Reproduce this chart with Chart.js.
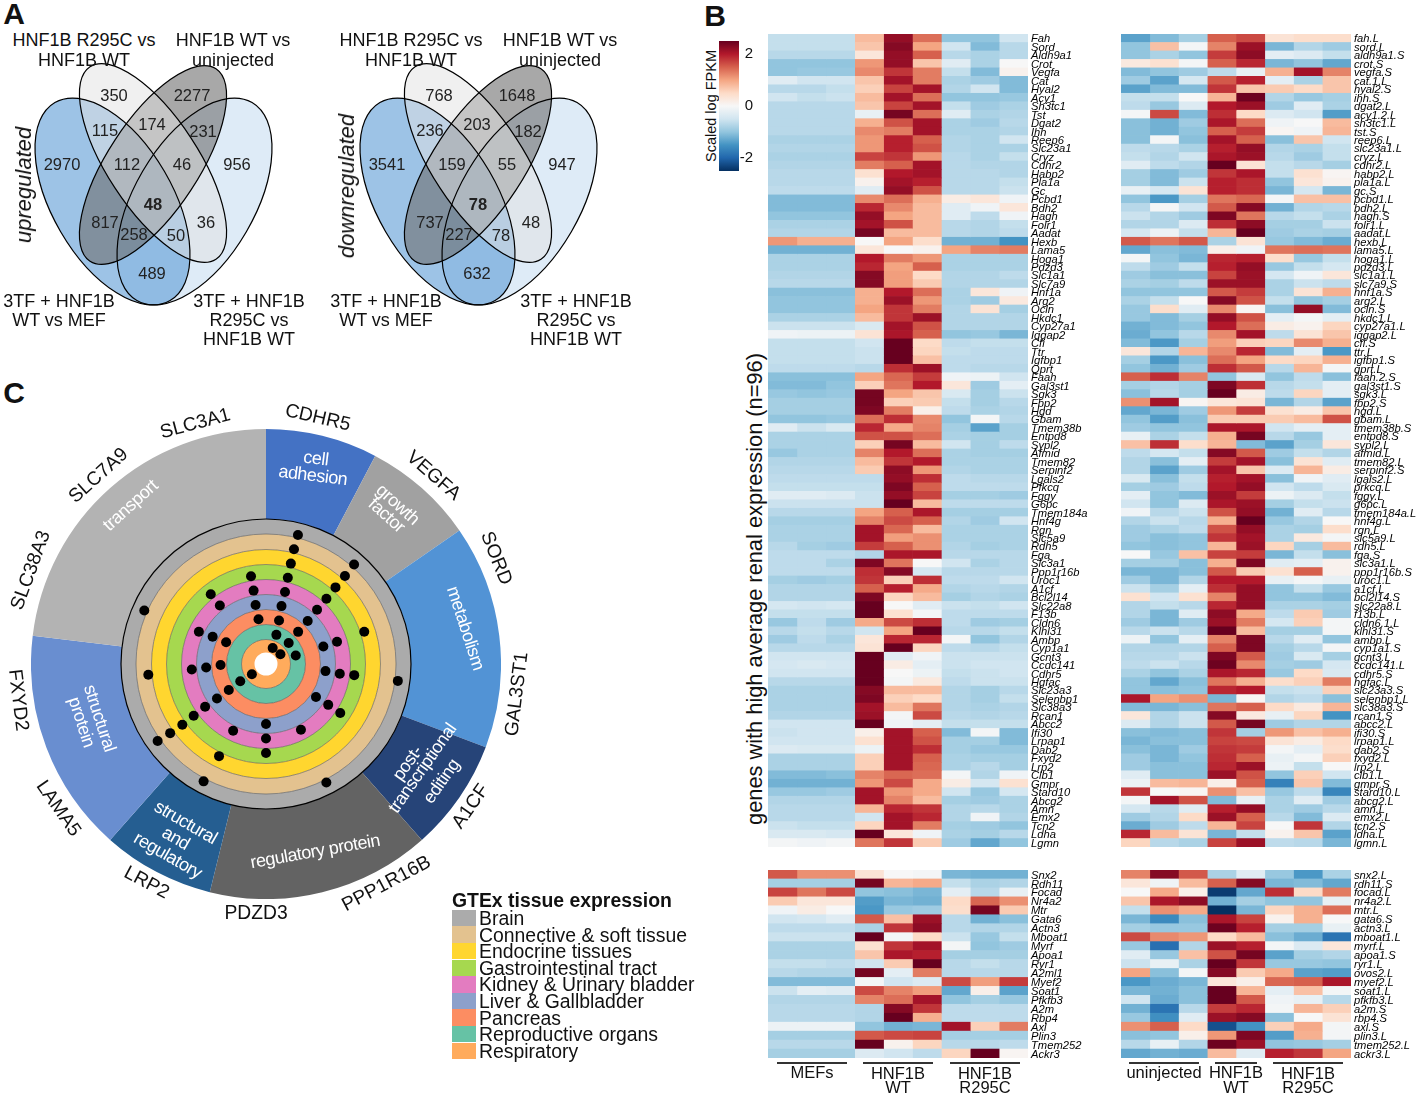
<!DOCTYPE html>
<html>
<head>
<meta charset="utf-8">
<script src="https://cdn.jsdelivr.net/npm/chart.js@4"></script>
<style>
html, body { margin: 0; padding: 0; background: #fff; overflow: hidden; }
#page { position: relative; width: 1417px; height: 1097px; overflow: hidden; font-family: "Liberation Sans", Arial, sans-serif; color: #111; }
canvas { position: absolute; }
.t { position: absolute; white-space: nowrap; line-height: 1; transform-origin: center; }
</style>
</head>
<body>
<div id="page"></div>
<script>
// ---- A: venn counts
const vennUpCounts = [350, 2277, 115, 174, 231, 2970, 112, 46, 956, 48, 817, 258, 50, 36, 489];
const vennDownCounts = [768, 1648, 236, 203, 182, 3541, 159, 55, 947, 78, 737, 227, 78, 48, 632];

// ---- B: heatmap data (scaled log FPKM)
const mouseCols = ["MEFs 1", "MEFs 2", "MEFs 3", "WT 1", "WT 2", "WT 3", "R295C 1", "R295C 2", "R295C 3"];
const frogCols = ["uninjected 1", "uninjected 2", "uninjected 3", "WT 1", "WT 2", "R295C 1", "R295C 2", "R295C 3"];

const mouseGenes = ["Fah","Sord","Aldh9a1","Crot","Vegfa","Cat","Hyal2","Acy1","Sh3tc1","Tst","Dgat2","Ihh","Reep6","Slc23a1","Cryz","Cdhr2","Habp2","Pla1a","Gc","Pcbd1","Bdh2","Hagh","Folr1","Aadat","Hexb","Lama5","Hoga1","Pdzd3","Slc1a1","Slc7a9","Hnf1a","Arg2","Ocln","Hkdc1","Cyp27a1","Iqgap2","Cfi","Ttr","Igfbp1","Qprt","Faah","Gal3st1","Sgk3","Fbp2","Hgd","Gbam","Tmem38b","Entpd8","Sypl2","Afmid","Tmem82","Serpinf2","Lgals2","Pfkcq","Fggy","G6pc","Tmem184a","Hnf4g","Rgn","Slc5a9","Rdh5","Fga","Slc3a1","Ppp1r16b","Uroc1","A1cf","Bcl2l14","Slc22a8","F13b","Cldn6","Klhl31","Ambp","Cyp1a1","Gcnt3","Ccdc141","Cdhr5","Hgfac","Slc23a3","Selenbp1","Slc38a3","Rcan1","Abcc2","Ifi30","Lrpap1","Dab2","Fxyd2","Lrp2","Clb1","Gmpr","Stard10","Abcg2","Amn","Emx2","Tcn2","Ldha","Lgmn"];
const mouseValues = [
[-.6,-.6,-.6,.8,2.2,1.4,-1,-1,-.5],
[-.6,-.6,-.6,.7,2.3,1,-.5,-1.1,-.7],
[-.7,-.7,-.7,.3,2.2,1.5,-.7,-.8,-.7],
[-1,-1,-1,1.1,2.2,.7,-.3,-.8,0],
[-1,-.95,-.95,1.2,1.8,1.3,-.6,-1.1,.1],
[-.3,-.5,-.5,.7,2.1,1.3,-.8,-.9,-1.1],
[-.7,-.7,-.6,.6,1.7,2.1,-.75,-.5,-1.1],
[-.5,-.6,-.55,.8,2.1,1.4,-1,-1,-.95],
[-.7,-.7,-.7,.7,1.7,2.1,-.6,-.9,-.8],
[-.7,-.7,-.7,-.2,2.4,1.4,-.3,-.8,-.75],
[-.7,-.7,-.7,.9,1.6,2.1,-.8,-.9,-.7],
[-.7,-.7,-.7,1.2,1.3,2.1,-.8,-.8,-.75],
[-.8,-.8,-.8,1.1,1.95,1.5,-.75,-.8,-.5],
[-.75,-.75,-.75,1.1,1.95,1.6,-.75,-.8,-.8],
[-.8,-.8,-.8,1.7,1.8,1.1,-.7,-.8,-.6],
[-.75,-.75,-.75,1.3,1.5,2.1,-.7,-.75,-.75],
[-.7,-.7,-.7,.4,2,2.1,-.7,-.7,-.75],
[-.7,-.7,-.7,.1,2.1,1.95,-.7,-.7,-.6],
[-.65,-.65,-.65,-.3,2.2,1.6,-.7,-.7,-.55],
[-1.1,-1.1,-1.1,1.2,1.4,.9,.2,.3,-.1],
[-1.1,-1.1,-1.1,1.9,1.2,.8,-.3,-.1,.3],
[-1,-1,-1,2.2,1,.8,-.3,-.65,-.1],
[-.8,-.8,-.8,2.1,1.6,.8,-.7,-.75,-.6],
[-.75,-.75,-.75,2.4,.8,.8,-.7,-.75,-.65],
[1.1,.9,.9,0,1,.45,-1.2,-1.2,-1.5],
[-1.2,-1.2,-1.2,.3,0,.1,1,1.25,1.3],
[-.8,-.8,-.8,2,1.3,1.1,-.8,-.8,-.8],
[-.8,-.8,-.8,1.9,1,1.5,-.8,-.8,-.8],
[-.75,-.75,-.75,2.3,1.05,.5,-.75,-.75,-.65],
[-.7,-.7,-.7,2.3,1.05,.65,-.75,-.75,-.75],
[-1.05,-1.05,-1.05,.9,2,1.4,-.8,.3,-.1],
[-1,-1,-1,.9,2.15,1.1,-.8,-.9,.25],
[-1,-1,-1,1,1.8,1.3,-.75,.35,-.85],
[-.8,-.8,-.8,.8,1.8,2.15,-.75,-.75,-.75],
[-.55,-.55,-.55,-.4,2.1,1.6,-.75,-.75,-.75],
[-.1,-.15,-.15,.35,2.05,1.5,-1,-.95,-1.15],
[-.6,-.6,-.6,-.5,2.5,.5,-.65,-.6,-.6],
[-.6,-.6,-.6,-.55,2.5,.55,-.6,-.65,-.65],
[-.6,-.6,-.6,-.55,2.5,.75,-.65,-.65,-.65],
[-.65,-.65,-.65,-.7,1.85,2.15,-.65,-.7,-.7],
[-1.05,-1.05,-1.05,1,1.45,1.75,-.1,-.15,-.5],
[-1.1,-1.1,-1,.6,1.35,2,.3,-.9,-.25],
[-.95,-1,-.95,2.4,1,.7,-.4,-.85,-.55],
[-.85,-.85,-.85,2.4,.6,.65,-.6,-.85,-.7],
[-.85,-.85,-.85,2.35,1.3,.15,-.65,-.8,-.75],
[-1,-1,-.95,1.4,1.85,1.2,-1,-.05,-.7],
[-.3,-.55,-.4,1.9,.95,1.25,-.85,-1.35,-.85],
[-.8,-.8,-.8,1.6,1.6,1.4,-.8,-.85,-.85],
[-.8,-.8,-.8,.6,2.4,.8,-.5,-.85,-.65],
[-.95,-.8,-.8,1.25,2,1.4,-.8,-.85,-.85],
[-.75,-.75,-.75,.8,1.8,2,-.8,-.8,-.8],
[-.7,-.7,-.7,.65,2.25,1.1,-.75,-.8,-.8],
[-.65,-.65,-.65,-.65,2.2,1.85,-.65,-.7,-.7],
[-.6,-.6,-.6,-.6,2.35,1.5,-.65,-.65,-.65],
[-.3,-.3,-.35,-.55,2.2,1.7,-.85,-.85,-.9],
[-.55,-.55,-.55,-.55,2.5,.8,-.65,-.65,-.65],
[-.7,-.7,-.7,1,1.5,2.05,-.85,-.85,-.85],
[-.85,-.85,-.85,1.25,1.65,1.5,-.75,-.9,-.5],
[-.8,-.8,-.8,2.1,1.45,.8,-.8,-.8,-.8],
[-.8,-.8,-.8,2.1,1.05,1.15,-.8,-.8,-.8],
[-.7,-.85,-.9,1.75,1.5,1.15,-.75,-.85,-.8],
[-.65,-.65,-.65,-.75,2.05,2.05,-.7,-.7,-.7],
[-.65,-.65,-.8,2.35,1.35,0,-.5,-.8,-.7],
[-.65,-.65,-.65,1.85,2.3,-.45,-.7,-.7,-.7],
[-.85,-.9,-.85,1.8,.6,1.85,-.65,-.65,-.5],
[-.75,-.75,-.75,1.5,1.95,.95,-.75,-.7,-.75],
[-.75,-.75,-.75,2.35,.55,.8,-.85,-.75,-.8],
[-.45,-.5,-.45,2.5,0,-.3,-.55,-.6,-.5],
[-.6,-.6,-.6,2.5,.4,-.05,-.65,-.65,-.65],
[-.95,-.65,-.9,.95,1.65,1.85,-.65,-.9,-.85],
[-.7,-.6,-.7,-.5,1,2.5,-.7,-.7,-.6],
[-.9,-.65,-.8,.3,1.9,1.9,-.05,-1,-.75],
[-.7,-.7,-.7,.35,2.5,.55,-.65,-.7,-.6],
[-.5,-.5,-.5,2.5,-.3,-.1,-.55,-.55,-.55],
[-.45,-.4,-.45,2.5,.2,-.25,-.55,-.5,-.5],
[-.5,-.5,-.5,2.5,0,-.15,-.6,-.55,-.5],
[-.7,-.7,-.7,2.5,-.05,.25,-.65,-.55,-.55],
[-.8,-.8,-.8,2.3,.8,.8,-.75,-.85,-.7],
[-.8,-.8,-.8,2.35,.6,.5,-.75,-.85,-.6],
[-.8,-.8,-.8,2.1,.8,1.35,-.75,-.8,-.75],
[-.75,-.75,-.75,2.15,-.05,1.65,-.7,-.75,-.7],
[-.5,-.5,-.5,2.5,-.1,-.25,-.6,-.6,-.6],
[-.55,-.5,-.5,.15,2.1,1.5,-1.1,-.05,-1.1],
[-.5,-.5,-.5,.4,2.1,1.6,-.85,-.85,-1.1],
[-.35,-.4,-.4,-.15,2.1,1.85,-.85,-.95,-.95],
[-.8,-.8,-.8,.6,2.1,1.5,-.8,-.85,-.85],
[-.8,-.8,-.8,.6,2.1,1.45,-.8,-.7,-.85],
[-1.1,-1.1,-1.05,1.25,1.45,1.4,-.05,-.75,-.1],
[-1.2,-1.2,-1.2,1.1,1.65,.95,.2,-.45,.4],
[-.95,-.95,-.9,2.1,1.1,.95,-.5,-.95,-.45],
[-.75,-.75,-.75,2.1,1.25,.8,-.85,-.9,-.8],
[-.7,-.7,-.7,.85,1.9,1.8,-.75,-.7,-.8],
[-.7,-.7,-.7,-.5,2.1,1.9,-.75,-.1,-.75],
[-.55,-.6,-.6,.55,2.1,1.3,-.85,-.9,-1],
[-.4,-.4,-.45,2.5,.3,-.1,-.8,-.85,-.7],
[-.05,-.1,-.05,1.35,1.8,.65,-.9,-1.3,-1]
];

const mouseGenesLow = ["Snx2","Rdh11","Focad","Nr4a2","Mtr","Gata6","Actn3","Mboat1","Myrf","Apoa1","Ryr1","A2ml1","Myef2","Soat1","Pfkfb3","A2m","Rbp4","Axl","Plin3","Tmem252","Ackr3"];
const mouseValuesLow = [
[1.55,1.15,1.15,.35,0,-.05,-1.15,-1.2,-1.2],
[-.85,-.85,-.85,2.4,.85,.95,-.6,-.8,-.75],
[1.7,1.35,1.65,-1,-1.05,-1.15,-.25,-.7,-.2],
[.65,.3,.3,-1.4,-1.15,-1.2,.5,1.45,1.15],
[-.1,.2,0,-1.45,-.95,-.9,.45,2.4,.65],
[-.5,-.45,-.3,1.55,.75,2.15,-.7,-1.2,-1.05],
[-.65,-.65,-.65,-.8,1.8,2.25,-.7,-.75,-.75],
[-.55,-.55,-.55,2.5,-.05,.5,-.55,-.95,-.6],
[-.8,-.8,-.8,.4,1.8,2.1,-.05,-1,-.9],
[-.8,-.8,-.8,.7,2.05,1.95,-.85,-.85,-.85],
[-.6,-.6,-.65,-.5,.65,2.5,-.7,-.6,-.7],
[-.7,-.75,-.75,2.4,-.25,1.3,-.7,-.7,-.7],
[-1.1,-1.1,-1.1,-.05,-.5,-.35,1.65,1.05,1.75],
[-.55,-.25,-.3,1.65,1.25,1.05,-1.3,.15,-1.35],
[-.75,-.75,-.75,1.25,1.4,2.1,-1,-.85,-.95],
[-.7,-.7,-.7,-.75,2.3,1.8,-.65,-.65,-.65],
[-.7,-.7,-.7,-.75,2.5,.9,-.65,-.65,-.65],
[-.15,-.15,-.15,-1,-1.2,-1.15,2.1,.6,1.3],
[-.85,-.85,-.85,1.55,1.65,1.7,-.85,-.85,-.85],
[-.7,-.7,-.7,2.5,.1,.55,-.7,-.7,-.65],
[-.85,-.85,-.85,-.35,-.5,-.65,.55,2.5,.05]
];

const frogGenes = ["fah.L","sord.L","aldh9a1.S","crot.S","vegfa.S","cat.1.L","hyal2.S","ihh.S","dgat2.L","acy1.2.L","sh3tc1.L","tst.S","reep6.L","slc23a1.L","cryz.L","cdhr2.L","habp2.L","pla1a.L","gc.S","pcbd1.L","bdh2.L","hagh.S","folr1.L","aadat.L","hexb.L","lama5.L","hoga1.L","pdzd3.L","slc1a1.L","slc7a9.S","hnf1a.S","arg2.L","ocln.S","hkdc1.L","cyp27a1.L","iqgap2.L","cfi.S","ttr.L","igfbp1.S","qprt.L","faah.2.S","gal3st1.S","sgk3.L","fbp2.S","hgd.L","gbam.L","tmem38b.S","entpd8.S","sypl2.L","afmid.L","tmem82.L","serpinf2.S","lgals2.L","prkcq.L","fggy.L","g6pc.L","tmem184a.L","hnf4g.L","rgn.L","slc5a9.L","rdh5.L","fga.S","slc3a1.L","ppp1r16b.S","uroc1.L","a1cf.L","bcl2l14.S","slc22a8.L","f13b.L","cldn6.1.L","klhl31.S","ambp.L","cyp1a1.S","gcnt3.L","ccdc141.L","cdhr5.S","hgfac.L","slc23a3.S","selenbp1.L","slc38a3.S","rcan1.S","abcc2.L","ifi30.S","lrpap1.L","dab2.S","fxyd2.L","lrp2.L","clb1.L","gmpr.S","stard10.L","abcg2.L","amn.L","emx2.L","tcn2.S","ldha.L","lgmn.L"];
const frogValues = [
[-1.35,-1.1,-.85,1.5,1.65,.35,.45,.45],
[-1,.75,-.05,1.25,2.15,-1.15,-.75,-.9],
[-1,-.8,-1,1.75,2.25,-.25,-.35,-.6],
[.25,.4,-.05,1.5,1.9,-1.15,-1,-1.3],
[-1.1,-1,-.9,-.65,-.2,.9,2.1,1.25],
[-.9,-1.35,-.45,1.55,1.95,-.25,-.8,.7],
[-1.35,-1.1,-1.1,1.8,.7,.65,.5,.7],
[-.6,-.6,0,.85,2.45,-.75,-.95,-.85],
[-.65,-.95,-.35,2,2.15,-.9,-.3,-.8],
[-.05,1.65,-1.1,1.85,.5,-.35,-.5,-1.4],
[-1.05,-1.2,-.9,2.05,1.4,-.1,0,.8],
[-1.05,-1.2,-1,1.5,1.75,.05,-.1,.85],
[-1.05,-.05,-1.05,2.1,1.5,-1.05,.7,-.5],
[-.65,-.7,-.8,1.95,2.2,-.75,-.8,-.6],
[-.6,-.75,-.5,2.05,2.15,-.7,-.9,-.6],
[-.3,-.65,-.75,2.5,.35,-.6,-.7,-.85],
[-.85,-1.1,-.9,1.8,2.05,-.6,.4,.05],
[-.85,-1.1,-.55,1.95,1.85,-1,.3,.1],
[-.2,-.45,.35,1.95,1.85,-1.15,-.45,-1.15],
[-1,-1.45,-.85,1.35,1.45,-.05,.75,.75],
[-.7,-.05,-.5,1.55,2.3,-1.2,-.75,-.7],
[-.55,-.75,-.9,2.35,1.35,-.7,-.6,-.8],
[-.75,-.75,-.35,1.85,2.25,-.85,-.85,-.55],
[-.45,-.15,-.6,.85,2.5,-.9,-.8,-.85],
[1.55,1.35,1.55,-.8,.35,-.95,-1.1,-1.25],
[-1.3,-1.05,-1.1,.15,-.1,1.35,1.4,1.35],
[-.05,-1,-1.15,1.9,1.95,.45,-.95,-.6],
[-.65,-.9,-.6,1.95,2.2,-.95,-.6,-.45],
[-.9,-1.05,-1.05,1.7,2.15,-.45,-.1,.3],
[-.8,-.85,-.65,2.15,2.15,-.8,-.55,-.65],
[-1,-1,-1,1.55,1.75,-.8,.35,.9],
[-.8,-.6,0,2.3,1.6,-.6,-1,-.85],
[-.95,.45,-.3,1.2,.05,-1.05,2.2,-1.1],
[-.95,-1.1,-.85,2.2,1.6,-.25,-.05,-.25],
[-1.2,-1.1,-1,2,1.4,.2,.1,.55],
[-1.25,-1,-.7,1.2,2.1,-.65,.35,.7],
[-1.1,-1.45,-.85,1.05,.6,.55,1.2,.9],
[.3,-.75,.85,1.2,1.9,-1.1,-.25,-1.45],
[-.85,-1.45,-1.05,1.4,1,.5,.55,.9],
[-1,-1.2,-.9,1.85,1.55,-.7,.85,-.05],
[1.5,1.85,1.25,-1,-.4,-1,-.65,-1.05],
[-.85,-.75,-.85,2.35,1.85,-.7,-.6,-.25],
[-1.05,-.7,-.85,2.5,.2,-.65,.55,-.25],
[1.15,2.1,.05,.3,.35,-1.15,-.75,-1.35],
[-1.3,-1.15,-.9,1.1,1.75,.4,.2,.7],
[-1,-1.4,-1.05,.65,.65,.65,.8,1.6],
[-.9,-1,-1,2.05,2.05,-.5,-.25,-.25],
[-.2,-.8,-.6,.9,2.4,-.7,-.95,-.25],
[.75,1.85,.45,.85,-1.1,-1.35,-.85,.3],
[-.65,-.45,-.6,2.3,1.55,-.9,-.6,-.75],
[-.75,-1.05,-.25,1.75,2.1,-1.05,.35,-.3],
[-.75,-1.35,-.9,2.1,.7,-.35,.85,.2],
[-.4,-1.05,-.6,1.95,2.1,-1.05,-.1,-.3],
[-.85,-.9,-.65,2,2.2,-.5,-.65,-.4],
[-.25,-1,-1.1,2.15,1.75,-.15,-.35,-.6],
[-.5,-1,-.35,2.05,2.15,-.85,-.6,-.55],
[-.1,-.7,-.55,1.6,2.2,-1.2,-.3,-.7],
[-.75,-.55,-.7,.9,2.5,-.95,-.75,0],
[-.9,-.8,-.65,1.6,2.2,-.8,-.85,.45],
[-.9,-1.05,-1,1.8,2.1,-.8,.25,-.05],
[-1,-1.05,-1,.85,2.15,.55,-.85,.8],
[0,-.95,.75,1.7,1.75,-1.15,-.6,-1.05],
[-.85,-.85,-1.05,.9,2.35,-.3,-.25,.1],
[-1.15,-1.15,-1.05,1.55,.65,.4,1.5,.1],
[-.9,-1.15,-.75,2,2,-.2,-.05,-.2],
[-.55,-.85,-.25,1.85,2.2,-1,-.6,-.95],
[.4,-.5,.4,1.25,2.2,-1,-1,-1.1],
[-.75,-.6,-.7,1.9,2.2,-.8,-.8,-.85],
[-.75,-1.15,-.3,2.25,.95,-.65,.65,-.9],
[-.9,-1.15,-.9,2.15,1.3,-.45,.6,-.05],
[-.7,-.55,-.7,2.5,.8,-.85,-.85,-.05],
[-.15,-1,-.25,1.25,2.35,-.7,-.3,-1],
[-.75,-.75,-.75,1.5,2.35,-.85,-.7,-.05],
[-.7,-.7,-.55,2.35,1.55,-.9,-.4,-.85],
[-.65,-.55,-.7,2.45,1.2,-.85,-.9,-.45],
[-.8,-1,-.8,2.05,1.9,-.95,.5,-.4],
[-1,-1.3,-1.05,1.35,.9,.45,.6,1.3],
[-1,-1.05,-1,1.9,2,-.6,-.55,.6],
[2.05,1,1.15,-1.15,.05,-.75,-.65,-1.05],
[-1.1,-1.15,-1.05,1.35,1.5,.5,.25,.85],
[.3,-.75,-.55,2.3,.25,-.2,.55,-1.5],
[-.35,-.75,-.55,1.55,2.4,-.9,-.75,-.75],
[-1.05,-1.1,-1.05,1.8,-.85,1.1,.75,.9],
[-1.15,-1.05,-1.05,1.7,1.65,.35,.2,.5],
[-1.05,-1.15,-.9,1.8,1.75,-.05,-.25,.45],
[-.9,-1.15,-1,1.85,1.5,-.2,-.05,.6],
[-.9,-1.05,-1.05,1.9,2.15,-.15,-.6,0],
[-.3,-1.05,-1.05,2.15,1.6,-1,.6,-.5],
[-.15,.8,.85,.15,1.5,-1.7,.7,-1.1],
[1.8,0,.05,1.15,.75,-.95,-.65,-1.65],
[-.05,2.1,1.6,-1.1,-.2,-.8,-.3,-.9],
[-.45,-.7,-.3,1.95,2.2,-.8,-.9,-.7],
[-.9,-.75,.5,2.15,1.5,-.7,-1.1,-.35],
[-1.25,-.9,-.65,.85,1.7,0,1.8,-.75],
[1.9,.8,.35,-1.15,-.6,.1,.7,-1.35],
[.55,-.7,-.8,1.7,2.15,-.65,-.7,-1.15]
];

const frogGenesLow = ["snx2.L","rdh11.S","focad.L","nr4a2.L","mtr.L","gata6.S","actn3.L","mboat1.L","myrf.L","apoa1.S","ryr1.L","ovos2.L","myef2.L","soat1.L","pfkfb3.L","a2m.S","rbp4.S","axl.S","plin3.L","tmem252.L","ackr3.L"];
const frogValuesLow = [
[1.25,2.3,1.55,-.8,-.3,-.95,-1.45,-.8],
[.3,-.1,.8,1.5,2.3,-1.15,-1.1,-1.3],
[0,.95,.15,-2.4,-1.3,1.85,.5,1.3],
[.7,2.05,2.25,-1.2,-.85,-1,-1,-.2],
[-.6,1.15,.95,-2.5,-1.15,.55,.9,1.4],
[-1.15,-1.6,-1.05,2.05,1.7,.1,.9,0],
[-.85,-.95,-.95,2.45,1.95,-.85,-.85,-.2],
[1.65,1.2,1.1,.5,.8,-1.05,-1.25,-1.85],
[-.95,-1.9,-.75,2.15,1.95,-.05,-.35,.3],
[-.3,-.95,.75,1.6,2.4,-1.35,-.85,-.75],
[-.55,-.2,-.8,2.5,1.8,-.95,-.95,-1],
[1,-1.05,-.05,2.3,.65,.95,-1.35,-1.4],
[-1.45,-1.25,-1.15,.3,.15,1.45,1.5,2.05],
[-1.15,-1.2,-1.05,2.5,.85,-.25,.75,-.05],
[-.5,-1.25,-1.05,2.5,1.55,-.1,-.2,-.7],
[-1.2,-1.85,-.7,1.75,1.9,-.05,.85,.6],
[-.95,-1.55,-.3,2.15,2.3,-1.05,0,.35],
[1.15,1.5,.5,-2.2,-1.5,.6,.95,-.05],
[-1.05,-1,.15,1.1,2.35,-1.4,.9,-.05],
[-.7,-.2,-.75,2.45,2.15,-1,-.95,-.85],
[-1.3,-1.2,-1.25,.8,-.3,1.95,1.8,1]
];

// ---- C: GTEx wheel
const functionNames = ["cell adhesion", "growth factor", "metabolism", "post-transcriptional editing", "regulatory protein", "structural and regulatory", "structural protein", "transport"];
const functionGeneCounts = [1, 1, 2, 1, 2, 1, 2, 3];
const functionColors = ["#4472c4", "#a1a1a1", "#5293d5", "#264478", "#636363", "#255e91", "#698ed0", "#b3b3b3"];
const tissues = ["Brain", "Connective & soft tissue", "Endocrine tissues", "Gastrointestinal tract", "Kidney & Urinary bladder", "Liver & Gallbladder", "Pancreas", "Reproductive organs", "Respiratory"];
const tissueColors = ["#ababab", "#e3c28f", "#ffd62f", "#a6d84f", "#e37cc0", "#8da0cb", "#fc8d62", "#66c2a5", "#ffab5c"];
// angle (degrees clockwise from top) of each gene dot on each tissue ring
const tissueDotAngles = [
  [13.9, 41.5, 97.3, 153, 208, 234.6, 293.7],
  [13.7, 41.9, 234.2, 264.8],
  [13.9, 42.2, 71.8, 207, 234],
  [14.2, 350.3, 42.8, 97.2, 123.4, 180, 234.4, 321.6],
  [14.8, 350.4, 43.3, 72.6, 97.5, 123.3, 152, 180, 206.2, 234.9, 265.8, 295.6, 321.7],
  [15, 350, 44.1, 73.1, 96.8, 123.5, 180, 234.9, 266.6, 297.1],
  [16.7, 350.5, 45, 298.6, 268.8, 235],
  [19.6, 47.2, 74.1, 236.3],
  [22.6, 56, 234.2]
];
const ringWeights = [15, 15.5, 15, 15, 15, 15, 15, 15, 13];

// ---- colours: RdBu from -2.5 to 2.5 in steps of 0.5
const rdbu = ["#053061", "#2166ac", "#4393c3", "#92c5de", "#d1e5f0", "#f7f7f7", "#fddbc7", "#f4a582", "#d6604d", "#b2182b", "#67001f"];
function hexRgb(h) {
  return [parseInt(h.slice(1, 3), 16), parseInt(h.slice(3, 5), 16), parseInt(h.slice(5, 7), 16)];
}
function heatColor(v) {
  const p = Math.max(0, Math.min(rdbu.length - 1.001, (v + 2.5) / 0.5));
  const i = Math.floor(p), f = p - i;
  const a = hexRgb(rdbu[i]), b = hexRgb(rdbu[i + 1]);
  return "rgb(" + a.map((c, k) => Math.round(c + (b[k] - c) * f)).join(",") + ")";
}

const page = document.getElementById("page");
function addCanvas(x, y, w, h) {
  const c = document.createElement("canvas");
  c.width = w; c.height = h;
  c.style.cssText = "left:" + x + "px;top:" + y + "px;width:" + w + "px;height:" + h + "px";
  page.appendChild(c);
  return c;
}
function addText(str, x, y, size, o) {
  o = o || {};
  const d = document.createElement("div");
  d.className = "t";
  d.textContent = str;
  d.style.left = x + "px";
  d.style.top = y + "px";
  d.style.fontSize = size + "px";
  if (o.bold) d.style.fontWeight = "bold";
  if (o.italic) d.style.fontStyle = "italic";
  if (o.color) d.style.color = o.color;
  if (o.spacing) d.style.letterSpacing = o.spacing + "px";
  const tx = o.left ? "0" : "-50%";
  d.style.transform = "translate(" + tx + ",-50%) rotate(" + (o.rot || 0) + "deg)";
  page.appendChild(d);
}

// ---- heatmaps: one floating-bar dataset per column, one category per gene
function heatmap(x, y, w, h, labelW, cols, genes, values) {
  // 8px spare above and below so the first and last gene names are not cut
  new Chart(addCanvas(x, y - 8, w + labelW, h + 16), {
    type: "bar",
    data: {
      labels: genes,
      datasets: cols.map((name, c) => ({
        label: name,
        data: values.map(() => [c, c + 1]),
        backgroundColor: values.map((row) => heatColor(row[c])),
      })),
    },
    options: {
      indexAxis: "y",
      responsive: false,
      animation: false,
      layout: { padding: { top: 8, bottom: 8 } },
      grouped: false,
      barPercentage: 1,
      categoryPercentage: 1,
      plugins: { legend: { display: false }, tooltip: { enabled: false } },
      scales: {
        x: { type: "linear", min: 0, max: cols.length, display: false },
        y: {
          position: "right",
          grid: { display: false, drawTicks: false },
          border: { display: false },
          afterFit: (s) => { s.width = labelW; s.paddingTop = 0; s.paddingBottom = 0; },
          ticks: {
            autoSkip: false,
            padding: 3,
            labelOffset: 1,
            color: "#000",
            font: { family: "Liberation Sans", style: "italic", size: 11.2 },
          },
        },
      },
    },
  });
}
heatmap(768, 34, 260, 813, 68, mouseCols, mouseGenes, mouseValues);
heatmap(768, 870, 260, 188, 68, mouseCols, mouseGenesLow, mouseValuesLow);
heatmap(1121, 34, 230, 813, 66, frogCols, frogGenes, frogValues);
heatmap(1121, 870, 230, 188, 66, frogCols, frogGenesLow, frogValuesLow);

// colour bar
new Chart(addCanvas(719, 36, 34, 140), {
  type: "bar",
  data: {
    labels: ["Scaled log FPKM"],
    datasets: [{
      data: [[-2.5, 2.5]],
      backgroundColor: (ctx) => {
        const area = ctx.chart.chartArea;
        if (!area) return "#fff";
        const g = ctx.chart.ctx.createLinearGradient(0, area.bottom, 0, area.top);
        rdbu.forEach((c, i) => g.addColorStop(i / (rdbu.length - 1), c));
        return g;
      },
    }],
  },
  options: {
    responsive: false,
    animation: false,
    layout: { padding: { top: 5, bottom: 5 } },
    barPercentage: 1,
    categoryPercentage: 1,
    plugins: { legend: { display: false }, tooltip: { enabled: false } },
    scales: {
      x: { display: false },
      y: {
        position: "right",
        min: -2.5,
        max: 2.5,
        afterBuildTicks: (s) => { s.ticks = [{ value: -2 }, { value: 0 }, { value: 2 }]; },
        afterFit: (s) => { s.width = 14; s.paddingTop = 0; s.paddingBottom = 0; },
        grid: { display: false, drawTicks: false },
        border: { display: false },
        ticks: {
          autoSkip: false,
          crossAlign: "far",
          padding: 0,
          color: "#111",
          font: { family: "Liberation Sans", size: 15 },
        },
      },
    },
  },
});

// ---- venns
const vennShapes = [
  { cx: 102.5, cy: 151.5, rx: 114.5, ry: 60, rot: 59.8, fill: "rgba(91,155,213,.6)" },
  { cx: 184.5, cy: 151.5, rx: 114.5, ry: 60, rot: -59.8, fill: "rgba(91,155,213,.2)" },
  { cx: 143, cy: 115, rx: 115, ry: 45.5, rot: -56.8, fill: "rgba(110,110,110,.6)" },
  { cx: 143, cy: 113, rx: 115, ry: 45.5, rot: 56.8, fill: "rgba(225,225,225,.5)" },
];
const vennSpots = [[104,46],[182,46],[95,81],[142,75],[193,82],[52,115],[117,115],[172,115],[227,115],[143,155],[95,173],[124,185],[166,186],[196,173],[142,224]];
const vennPlugin = {
  id: "venn",
  beforeDatasetsDraw(chart) {
    const c = chart.ctx, sx = chart.scales.x, sy = chart.scales.y;
    c.save();
    vennShapes.forEach((e) => {
      c.beginPath();
      c.ellipse(sx.getPixelForValue(e.cx), sy.getPixelForValue(e.cy), e.rx, e.ry, (e.rot * Math.PI) / 180, 0, Math.PI * 2);
      c.fillStyle = e.fill;
      c.fill();
    });
    c.strokeStyle = "#000";
    c.lineWidth = 1.2;
    vennShapes.forEach((e) => {
      c.beginPath();
      c.ellipse(sx.getPixelForValue(e.cx), sy.getPixelForValue(e.cy), e.rx, e.ry, (e.rot * Math.PI) / 180, 0, Math.PI * 2);
      c.stroke();
    });
    c.restore();
  },
  afterDatasetsDraw(chart) {
    const c = chart.ctx, meta = chart.getDatasetMeta(0), counts = chart.data.datasets[0].counts;
    c.save();
    c.textAlign = "center";
    c.textBaseline = "middle";
    c.fillStyle = "#222";
    meta.data.forEach((pt, i) => {
      c.font = (i === 9 ? "bold " : "") + "16.5px 'Liberation Sans'";
      c.fillText(String(counts[i]), pt.x, pt.y);
    });
    c.restore();
  },
};
function venn(x, counts) {
  new Chart(addCanvas(x, 50, 280, 280), {
    type: "scatter",
    data: {
      datasets: [{
        counts: counts,
        data: vennSpots.map((p) => ({ x: p[0], y: p[1] })),
        pointRadius: 0,
      }],
    },
    options: {
      responsive: false,
      animation: false,
      layout: { padding: 0 },
      plugins: { legend: { display: false }, tooltip: { enabled: false } },
      scales: {
        x: { min: 0, max: 280, display: false },
        y: { min: 0, max: 280, reverse: true, display: false },
      },
    },
    plugins: [vennPlugin],
  });
}
venn(10, vennUpCounts);
venn(335, vennDownCounts);

// ---- wheel: nested doughnut, ring thickness through dataset weight
const ringLines = {
  id: "ringLines",
  afterDatasetsDraw(chart) {
    const c = chart.ctx;
    c.save();
    tissues.forEach((name, i) => {
      const arc = chart.getDatasetMeta(i + 1).data[0];
      c.beginPath();
      c.arc(arc.x, arc.y, arc.outerRadius, 0, Math.PI * 2);
      c.strokeStyle = i === 0 ? "#000" : "#555";
      c.lineWidth = i === 0 ? 1.2 : 0.6;
      c.stroke();
    });
    c.restore();
  },
};
new Chart(addCanvas(31, 429, 470, 470), {
  type: "doughnut",
  data: {
    labels: functionNames,
    datasets: [{
      data: functionGeneCounts,
      backgroundColor: functionColors,
      borderWidth: 0,
      weight: 90,
    }].concat(tissues.map((name, i) => ({
      label: name,
      data: [1],
      backgroundColor: [tissueColors[i]],
      borderWidth: 0,
      weight: ringWeights[i],
    }))),
  },
  options: {
    responsive: false,
    animation: false,
    cutout: 11.5,
    layout: { padding: 0 },
    plugins: { legend: { display: false }, tooltip: { enabled: false } },
  },
  plugins: [ringLines],
});

// dots on the rings, placed by angle and ring through a scatter overlay
function ringMiddle(i) {
  let outer = 145;
  for (let k = 0; k < i; k++) outer -= ringWeights[k];
  return outer - ringWeights[i] / 2;
}
new Chart(addCanvas(116, 514, 300, 300), {
  type: "scatter",
  data: {
    datasets: tissues.map((name, i) => ({
      label: name,
      data: tissueDotAngles[i].map((deg) => ({
        x: ringMiddle(i) * Math.sin((deg * Math.PI) / 180),
        y: ringMiddle(i) * Math.cos((deg * Math.PI) / 180),
      })),
      pointRadius: 5,
      pointBackgroundColor: "#000",
      pointBorderWidth: 0,
    })),
  },
  options: {
    responsive: false,
    animation: false,
    layout: { padding: 0 },
    plugins: { legend: { display: false }, tooltip: { enabled: false } },
    scales: {
      x: { min: -150, max: 150, display: false },
      y: { min: -150, max: 150, display: false },
    },
  },
});

// ---- text
addText("A", 14, 14, 30, { bold: true });
addText("B", 715, 16, 30, { bold: true });
addText("C", 14, 393, 30, { bold: true });

[[0], [327]].forEach(([dx]) => {
  addText("HNF1B R295C vs", 84 + dx, 40, 18);
  addText("HNF1B WT", 84 + dx, 60, 18);
  addText("HNF1B WT vs", 233 + dx, 40, 18);
  addText("uninjected", 233 + dx, 60, 18);
  addText("3TF + HNF1B", 59 + dx, 301, 18);
  addText("WT vs MEF", 59 + dx, 320, 18);
  addText("3TF + HNF1B", 249 + dx, 301, 18);
  addText("R295C vs", 249 + dx, 320, 18);
  addText("HNF1B WT", 249 + dx, 339, 18);
});
addText("upregulated", 24, 185, 22, { italic: true, rot: -90 });
addText("downregulated", 347, 186, 22, { italic: true, rot: -90 });

addText("Scaled log FPKM", 711, 106, 14.5, { rot: -90 });
addText("genes with high average renal expression (n=96)", 755, 589, 21.8, { rot: -90 });

// group brackets under the heatmaps
[[777, 847], [863, 933], [950, 1020], [1129, 1199], [1215, 1257], [1273, 1343]].forEach(([a, b]) => {
  const d = document.createElement("div");
  d.style.cssText = "position:absolute;height:1.5px;background:#333;top:1062px;left:" + a + "px;width:" + (b - a) + "px";
  page.appendChild(d);
});
addText("MEFs", 812, 1072, 16.5);
addText("HNF1B", 898, 1073, 16.5);
addText("WT", 898, 1087, 16.5);
addText("HNF1B", 985, 1073, 16.5);
addText("R295C", 985, 1087, 16.5);
addText("uninjected", 1164, 1072, 16.5);
addText("HNF1B", 1236, 1072, 16.5);
addText("WT", 1236, 1087, 16.5);
addText("HNF1B", 1308, 1073, 16.5);
addText("R295C", 1308, 1087, 16.5);

// wheel gene names
[["SLC3A1", 195, 423, -15], ["CDHR5", 318, 417, 13], ["VEGFA", 434, 475, 41], ["SORD", 497, 558, 68],
 ["GAL3ST1", 516, 694, -83], ["A1CF", 470, 806, -55], ["PPP1R16B", 386, 883, -28], ["PDZD3", 256, 913, 0],
 ["LRP2", 147, 882, 28], ["LAMA5", 59, 808, 55], ["FXYD2", 19, 700, 83], ["SLC38A3", 30, 570, -70], ["SLC7A9", 98, 475, -42]]
  .forEach(([s, x, y, r]) => addText(s, x, y, 19.3, { rot: r }));

// wheel function names
[["cell", 316, 458, 7], ["adhesion", 313, 475, 7], ["growth", 398, 504, 42], ["factor", 387, 515, 42],
 ["metabolism", 466, 628, 72], ["post-", 407, 763, -55], ["transcriptional", 422, 768, -55], ["editing", 441, 781, -55],
 ["regulatory protein", 315, 851, -10], ["structural", 186, 822, 30], ["and", 176, 838, 30], ["regulatory", 168, 855, 30],
 ["structural", 100, 718, 72], ["protein", 82, 722, 72], ["transport", 130, 505, -42]]
  .forEach(([s, x, y, r]) => addText(s, x, y, 18, { rot: r, color: "#fff", spacing: -0.5 }));

// legend
addText("GTEx tissue expression", 452, 901, 19.4, { bold: true, left: true });
tissues.forEach((name, i) => {
  const y = 918 + i * 16.6;
  const sw = document.createElement("div");
  sw.style.cssText = "position:absolute;left:452px;width:24px;height:16.6px;background:" + tissueColors[i] + ";top:" + (y - 8.3) + "px";
  page.appendChild(sw);
  addText(name, 479, y + 1, 19.4, { left: true });
});
</script>
</body>
</html>
